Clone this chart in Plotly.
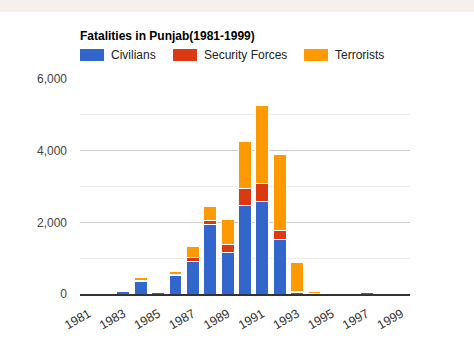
import plotly.graph_objects as go

years = [str(y) for y in range(1981, 2000)]
civilians = [13, 13, 75, 359, 37, 520, 910, 1949, 1168, 2467, 2591, 1518, 48, 2, 0, 0, 30, 0, 0]
security = [2, 2, 20, 20, 8, 38, 95, 110, 201, 476, 497, 252, 25, 0, 0, 0, 3, 0, 0]
terrorists = [14, 7, 13, 77, 30, 78, 328, 373, 703, 1320, 2177, 2113, 798, 70, 0, 0, 20, 0, 0]
tick_years = [str(y) for y in range(1981, 2000, 2)]
y_ticks = [0, 2000, 4000, 6000]

series_names = ["Civilians", "Security Forces", "Terrorists"]
colors = ["#3366cc", "#dc3912", "#ff9900"]

W, H = 474, 361
L, R, T, B = 80, 64, 79, 67
pw, ph = W - L - R, H - T - B

fig = go.Figure()
for name, vals, col in zip(series_names, [civilians, security, terrorists], colors):
    fig.add_trace(go.Bar(x=years, y=vals, name=name, marker=dict(color=col, line=dict(color="white", width=1)),
                         showlegend=False))

def px_x(p):
    return (p - L) / pw

def px_y(p):
    return 1 - (p - T) / ph

shapes = [dict(type="rect", xref="paper", yref="paper", x0=px_x(0), x1=px_x(W), y0=px_y(12), y1=px_y(0),
               fillcolor="#f5f1ea", line=dict(width=0), layer="below")]
annotations = []
legend_boxes = [(80, 104, 109), (173, 197, 202), (304, 328, 333)]
for (bx0, bx1, tx), name, col in zip(legend_boxes, series_names, colors):
    shapes.append(dict(type="rect", xref="paper", yref="paper", x0=px_x(bx0), x1=px_x(bx1),
                       y0=px_y(61), y1=px_y(49), fillcolor=col, line=dict(width=0)))
    annotations.append(dict(text=name, xref="paper", yref="paper", x=px_x(tx), y=px_y(55), xanchor="left",
                            yanchor="middle", showarrow=False, font=dict(size=12, color="#222", family="Arial")))
annotations.append(dict(text="<b>Fatalities in Punjab(1981-1999)</b>", xref="paper", yref="paper", x=px_x(78),
                        y=px_y(36), xanchor="left", yanchor="middle", showarrow=False,
                        font=dict(size=12, color="#000", family="Arial")))

fig.update_layout(
    width=W, height=H, margin=dict(l=L, r=R, t=T, b=B, autoexpand=False),
    barmode="stack", bargap=0.26,
    paper_bgcolor="white", plot_bgcolor="white",
    font=dict(family="Arial", size=12, color="#444"),
    shapes=shapes, annotations=annotations,
    xaxis=dict(type="category", tickmode="array", tickvals=tick_years, ticktext=tick_years, tickangle=-30,
               showline=True, linecolor="#333", linewidth=1.5, showgrid=False, ticks="",
               ticklabelstandoff=6, tickfont=dict(size=12.5, color="#333")),
    yaxis=dict(range=[0, 6000], tickvals=y_ticks, tickformat=",d", showgrid=True, gridcolor="#cccccc",
               gridwidth=1, zeroline=False, ticklabelstandoff=12, tickfont=dict(size=12, color="#444"),
               minor=dict(dtick=1000, showgrid=True, gridcolor="#ebebeb", gridwidth=1)),
)

fig.write_html("out.html", config={"displayModeBar": False},
               post_script="document.body.style.margin='0';document.body.style.padding='0';")
